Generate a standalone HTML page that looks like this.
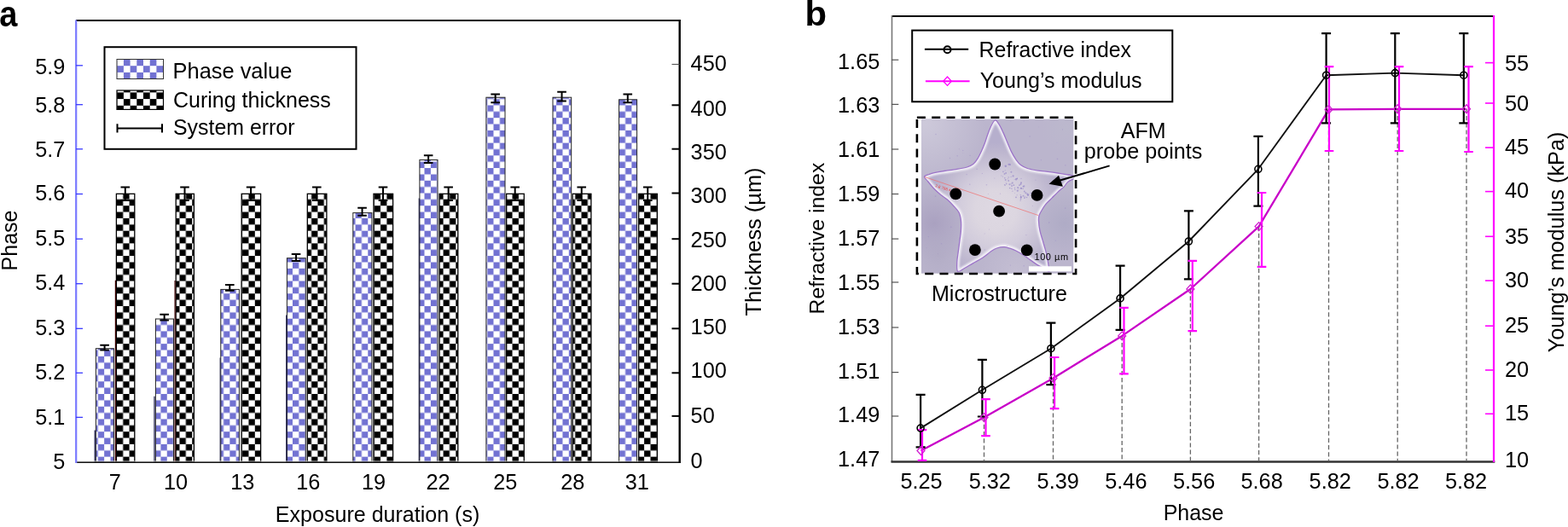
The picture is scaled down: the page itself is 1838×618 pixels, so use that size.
<!DOCTYPE html>
<html><head><meta charset="utf-8"><title>Figure</title>
<style>html,body{margin:0;padding:0;background:#fff;width:1838px;height:618px;overflow:hidden}svg{display:block}</style>
</head><body>
<svg width="1838" height="618" viewBox="0 0 1838 618">
<defs>
<pattern id="pb" patternUnits="userSpaceOnUse" x="4.4" y="5.7" width="14.72" height="14.72">
<rect width="14.72" height="14.72" fill="#fff"/>
<rect x="7.36" y="0" width="7.36" height="7.36" fill="#7272d2"/>
<rect x="0" y="7.36" width="7.36" height="7.36" fill="#7272d2"/>
</pattern>
<pattern id="pk" patternUnits="userSpaceOnUse" x="4.4" y="5.7" width="14.72" height="14.72">
<rect width="14.72" height="14.72" fill="#fff"/>
<rect x="7.36" y="0" width="7.36" height="7.36" fill="#000"/>
<rect x="0" y="7.36" width="7.36" height="7.36" fill="#000"/>
</pattern>
<pattern id="pbl" patternUnits="userSpaceOnUse" x="137.2" y="69.5" width="15.4" height="15.4">
<rect width="15.4" height="15.4" fill="#fff"/>
<rect x="7.7" y="0" width="7.7" height="7.7" fill="#7272d2"/>
<rect x="0" y="7.7" width="7.7" height="7.7" fill="#7272d2"/>
</pattern>
<pattern id="pkl" patternUnits="userSpaceOnUse" x="137.2" y="108.4" width="15.4" height="15.4">
<rect width="15.4" height="15.4" fill="#fff"/>
<rect x="0" y="0" width="7.7" height="7.7" fill="#000"/>
<rect x="7.7" y="7.7" width="7.7" height="7.7" fill="#000"/>
</pattern>
<filter id="soft" x="-5%" y="-5%" width="110%" height="110%"><feGaussianBlur stdDeviation="0.9"/></filter>
<clipPath id="photo"><rect x="1080" y="139.4" width="178.5" height="181.4"/></clipPath>
<linearGradient id="bgGrad" x1="0" y1="0" x2="1" y2="1">
<stop offset="0" stop-color="#cac6d8"/>
<stop offset="0.55" stop-color="#bdb6d0"/>
<stop offset="1" stop-color="#b2aec6"/>
</linearGradient>
<radialGradient id="starGrad" gradientUnits="userSpaceOnUse" cx="1167" cy="247" r="80">
<stop offset="0" stop-color="#ded8e2"/>
<stop offset="0.3" stop-color="#dcd6e0"/>
<stop offset="0.55" stop-color="#d2ccdc"/>
<stop offset="0.85" stop-color="#beb7cf"/>
<stop offset="1" stop-color="#b6afcd"/>
</radialGradient>
</defs>
<rect width="1838" height="618" fill="#fff"/>
<g font-family='"Liberation Sans", Arial, Helvetica, sans-serif' fill="#000">
<text x="0" y="0" font-size="42" font-weight="bold" transform="translate(-0.8 30.6) scale(0.905 1)">a</text>
<rect x="112.4" y="408.7" width="21.0" height="133.3" fill="url(#pb)" stroke="#222" stroke-width="1"/>
<rect x="136.4" y="227.3" width="21.400000000000006" height="314.7" fill="url(#pk)" stroke="#000" stroke-width="1.3"/>
<rect x="182.4" y="374.0" width="21.099999999999994" height="168.0" fill="url(#pb)" stroke="#222" stroke-width="1"/>
<rect x="206.2" y="227.3" width="21.200000000000017" height="314.7" fill="url(#pk)" stroke="#000" stroke-width="1.3"/>
<rect x="258.8" y="339.4" width="21.599999999999966" height="202.60000000000002" fill="url(#pb)" stroke="#222" stroke-width="1"/>
<rect x="283.2" y="227.3" width="22.400000000000034" height="314.7" fill="url(#pk)" stroke="#000" stroke-width="1.3"/>
<rect x="336.4" y="302.7" width="21.900000000000034" height="239.3" fill="url(#pb)" stroke="#222" stroke-width="1"/>
<rect x="360.3" y="227.3" width="22.599999999999966" height="314.7" fill="url(#pk)" stroke="#000" stroke-width="1.3"/>
<rect x="413.8" y="249.6" width="22.099999999999966" height="292.4" fill="url(#pb)" stroke="#222" stroke-width="1"/>
<rect x="438.0" y="227.3" width="22.600000000000023" height="314.7" fill="url(#pk)" stroke="#000" stroke-width="1.3"/>
<rect x="491.9" y="187.5" width="21.100000000000023" height="354.5" fill="url(#pb)" stroke="#222" stroke-width="1"/>
<rect x="515.1" y="227.3" width="21.699999999999932" height="314.7" fill="url(#pk)" stroke="#000" stroke-width="1.3"/>
<rect x="569.9" y="114.2" width="22.100000000000023" height="427.8" fill="url(#pb)" stroke="#222" stroke-width="1"/>
<rect x="593.7" y="227.3" width="20.59999999999991" height="314.7" fill="url(#pk)" stroke="#000" stroke-width="1.3"/>
<rect x="648.0" y="114.2" width="21.700000000000045" height="427.8" fill="url(#pb)" stroke="#222" stroke-width="1"/>
<rect x="671.2" y="227.3" width="21.699999999999932" height="314.7" fill="url(#pk)" stroke="#000" stroke-width="1.3"/>
<rect x="725.6" y="116.8" width="21.0" height="425.2" fill="url(#pb)" stroke="#222" stroke-width="1"/>
<rect x="748.7" y="227.3" width="21.699999999999932" height="314.7" fill="url(#pk)" stroke="#000" stroke-width="1.3"/>
<line x1="111.2" y1="504.6" x2="111.2" y2="542" stroke="#101040" stroke-width="1.2"/>
<line x1="135.4" y1="328.7" x2="135.4" y2="542" stroke="#3a0000" stroke-width="1.2"/>
<line x1="181.0" y1="464.7" x2="181.0" y2="542" stroke="#101040" stroke-width="1.2"/>
<line x1="205.1" y1="329" x2="205.1" y2="542" stroke="#3a0000" stroke-width="1.2"/>
<line x1="258.2" y1="419.4" x2="258.2" y2="542" stroke="#303050" stroke-width="1.2"/>
<line x1="283.0" y1="329.4" x2="283.0" y2="542" stroke="#555" stroke-width="1.2"/>
<line x1="335.8" y1="369.5" x2="335.8" y2="542" stroke="#101040" stroke-width="1.2"/>
<line x1="491.3" y1="232.4" x2="491.3" y2="542" stroke="#202040" stroke-width="1.2"/>
<path d="M122.60000000000001 404.7V410.6M117.30000000000001 404.7H127.9M117.30000000000001 410.6H127.9" stroke="#000" stroke-width="2" fill="none"/>
<path d="M146.8 219.6V235M141.5 219.6H152.10000000000002M141.5 235H152.10000000000002" stroke="#000" stroke-width="2" fill="none"/>
<path d="M192.64999999999998 368.8V375.6M187.34999999999997 368.8H197.95M187.34999999999997 375.6H197.95" stroke="#000" stroke-width="2" fill="none"/>
<path d="M216.5 219.6V235M211.2 219.6H221.8M211.2 235H221.8" stroke="#000" stroke-width="2" fill="none"/>
<path d="M269.3 333.9V340.7M264.0 333.9H274.6M264.0 340.7H274.6" stroke="#000" stroke-width="2" fill="none"/>
<path d="M294.09999999999997 219.6V235M288.79999999999995 219.6H299.4M288.79999999999995 235H299.4" stroke="#000" stroke-width="2" fill="none"/>
<path d="M347.05 298.1V306.1M341.75 298.1H352.35M341.75 306.1H352.35" stroke="#000" stroke-width="2" fill="none"/>
<path d="M371.3 219.6V235M366.0 219.6H376.6M366.0 235H376.6" stroke="#000" stroke-width="2" fill="none"/>
<path d="M424.55 243.7V252.8M419.25 243.7H429.85M419.25 252.8H429.85" stroke="#000" stroke-width="2" fill="none"/>
<path d="M449.0 219.6V235M443.7 219.6H454.3M443.7 235H454.3" stroke="#000" stroke-width="2" fill="none"/>
<path d="M502.15 182.3V191.1M496.84999999999997 182.3H507.45M496.84999999999997 191.1H507.45" stroke="#000" stroke-width="2" fill="none"/>
<path d="M525.6500000000001 219.6V235M520.3500000000001 219.6H530.95M520.3500000000001 235H530.95" stroke="#000" stroke-width="2" fill="none"/>
<path d="M580.6500000000001 110.4V120.2M575.3500000000001 110.4H585.95M575.3500000000001 120.2H585.95" stroke="#000" stroke-width="2" fill="none"/>
<path d="M603.7 219.6V235M598.4000000000001 219.6H609.0M598.4000000000001 235H609.0" stroke="#000" stroke-width="2" fill="none"/>
<path d="M658.5500000000001 107.8V118.6M653.2500000000001 107.8H663.85M653.2500000000001 118.6H663.85" stroke="#000" stroke-width="2" fill="none"/>
<path d="M681.75 219.6V235M676.45 219.6H687.05M676.45 235H687.05" stroke="#000" stroke-width="2" fill="none"/>
<path d="M735.8000000000001 110.4V120.2M730.5000000000001 110.4H741.1M730.5000000000001 120.2H741.1" stroke="#000" stroke-width="2" fill="none"/>
<path d="M759.25 219.6V235M753.95 219.6H764.55M753.95 235H764.55" stroke="#000" stroke-width="2" fill="none"/>
<line x1="89" y1="24" x2="797.5" y2="24" stroke="#000" stroke-width="2"/>
<line x1="89" y1="541" x2="797" y2="541" stroke="#ddd" stroke-width="1"/>
<line x1="89" y1="542.3" x2="797.5" y2="542.3" stroke="#111" stroke-width="1.6"/>
<line x1="796.7" y1="23" x2="796.7" y2="543" stroke="#000" stroke-width="2.4"/>
<line x1="89.2" y1="23.5" x2="89.2" y2="543" stroke="#7a7aff" stroke-width="2.2"/>
<text x="76.3" y="549.5" font-size="25.3" text-anchor="end" >5</text>
<line x1="89" y1="489.4" x2="97" y2="489.4" stroke="#3a3aff" stroke-width="1.3"/>
<text x="76.3" y="497.7" font-size="25.3" text-anchor="end" >5.1</text>
<line x1="89" y1="437.3" x2="97" y2="437.3" stroke="#3a3aff" stroke-width="1.3"/>
<text x="76.3" y="445.0" font-size="25.3" text-anchor="end" >5.2</text>
<line x1="89" y1="385.3" x2="97" y2="385.3" stroke="#3a3aff" stroke-width="1.3"/>
<text x="76.3" y="393.0" font-size="25.3" text-anchor="end" >5.3</text>
<line x1="89" y1="332.7" x2="97" y2="332.7" stroke="#3a3aff" stroke-width="1.3"/>
<text x="76.3" y="340.4" font-size="25.3" text-anchor="end" >5.4</text>
<line x1="89" y1="280.2" x2="97" y2="280.2" stroke="#3a3aff" stroke-width="1.3"/>
<text x="76.3" y="288.0" font-size="25.3" text-anchor="end" >5.5</text>
<line x1="89" y1="227.5" x2="97" y2="227.5" stroke="#3a3aff" stroke-width="1.3"/>
<text x="76.3" y="235.0" font-size="25.3" text-anchor="end" >5.6</text>
<line x1="89" y1="174.8" x2="97" y2="174.8" stroke="#3a3aff" stroke-width="1.3"/>
<text x="76.3" y="183.7" font-size="25.3" text-anchor="end" >5.7</text>
<line x1="89" y1="122.7" x2="97" y2="122.7" stroke="#3a3aff" stroke-width="1.3"/>
<text x="76.3" y="132.2" font-size="25.3" text-anchor="end" >5.8</text>
<line x1="89" y1="76.8" x2="97" y2="76.8" stroke="#3a3aff" stroke-width="1.3"/>
<text x="76.3" y="86.6" font-size="25.3" text-anchor="end" >5.9</text>
<text x="809.6" y="549.4" font-size="25.3" text-anchor="start" >0</text>
<line x1="787.5" y1="487.9" x2="797" y2="487.9" stroke="#000" stroke-width="2"/>
<text x="809.6" y="495.6" font-size="25.3" text-anchor="start" >50</text>
<line x1="787.5" y1="437.3" x2="797" y2="437.3" stroke="#000" stroke-width="2"/>
<text x="809.6" y="442.6" font-size="25.3" text-anchor="start" >100</text>
<line x1="787.5" y1="385.3" x2="797" y2="385.3" stroke="#000" stroke-width="2"/>
<text x="809.6" y="392.3" font-size="25.3" text-anchor="start" >150</text>
<line x1="787.5" y1="332.7" x2="797" y2="332.7" stroke="#000" stroke-width="2"/>
<text x="809.6" y="340.5" font-size="25.3" text-anchor="start" >200</text>
<line x1="787.5" y1="280.2" x2="797" y2="280.2" stroke="#000" stroke-width="2"/>
<text x="809.6" y="289.5" font-size="25.3" text-anchor="start" >250</text>
<line x1="787.5" y1="226.5" x2="797" y2="226.5" stroke="#000" stroke-width="2"/>
<text x="809.6" y="238.3" font-size="25.3" text-anchor="start" >300</text>
<line x1="787.5" y1="174.7" x2="797" y2="174.7" stroke="#000" stroke-width="2"/>
<text x="809.6" y="186.9" font-size="25.3" text-anchor="start" >350</text>
<line x1="787.5" y1="123.3" x2="797" y2="123.3" stroke="#000" stroke-width="2"/>
<text x="809.6" y="135.5" font-size="25.3" text-anchor="start" >400</text>
<line x1="787.5" y1="75.4" x2="797" y2="75.4" stroke="#444" stroke-width="1"/>
<text x="809.6" y="83.2" font-size="25.3" text-anchor="start" >450</text>
<text x="134.8" y="573.6" font-size="25.3" text-anchor="middle" >7</text>
<text x="206" y="573.6" font-size="25.3" text-anchor="middle" >10</text>
<text x="284.3" y="573.6" font-size="25.3" text-anchor="middle" >13</text>
<text x="361.3" y="573.6" font-size="25.3" text-anchor="middle" >16</text>
<text x="438" y="573.6" font-size="25.3" text-anchor="middle" >19</text>
<text x="513.5" y="573.6" font-size="25.3" text-anchor="middle" >22</text>
<text x="592.3" y="573.6" font-size="25.3" text-anchor="middle" >25</text>
<text x="671.2" y="573.6" font-size="25.3" text-anchor="middle" >28</text>
<text x="746.8" y="573.6" font-size="25.3" text-anchor="middle" >31</text>
<text x="442.6" y="612" font-size="25.06" text-anchor="middle" >Exposure duration (s)</text>
<text transform="translate(20.4 282) rotate(-90)" font-size="25" text-anchor="middle">Phase</text>
<text transform="translate(892.4 283.5) rotate(-90)" font-size="25.4" text-anchor="middle">Thickness (µm)</text>
<rect x="122.5" y="55.2" width="295" height="119.6" fill="#fff" stroke="#000" stroke-width="2"/>
<rect x="137" y="69.5" width="54.5" height="23" fill="url(#pbl)" stroke="#333" stroke-width="1"/>
<rect x="137" y="106" width="54.5" height="22.4" fill="url(#pkl)" stroke="#000" stroke-width="1.2"/>
<path d="M137.5 150.4H190M137.5 145.2V155.6M190 145.2V155.6" stroke="#000" stroke-width="2" fill="none"/>
<text x="202.6" y="91.5" font-size="25.4" text-anchor="start" >Phase value</text>
<text x="203" y="125.9" font-size="25.0" text-anchor="start" >Curing thickness</text>
<text x="203" y="158.3" font-size="24.9" text-anchor="start" >System error</text>
<text x="0" y="0" font-size="41" font-weight="bold" transform="translate(943.5 30.4) scale(1.02 1)">b</text>
<g clip-path="url(#photo)">
<rect x="1080" y="139.4" width="178.5" height="181.4" fill="#bbb5cd"/>
<radialGradient id="g1085145" gradientUnits="userSpaceOnUse" cx="1085" cy="145" r="70"><stop offset="0" stop-color="#cdc9da" stop-opacity="1.0"/><stop offset="1" stop-color="#cdc9da" stop-opacity="0"/></radialGradient>
<circle cx="1085" cy="145" r="70" fill="url(#g1085145)"/>
<radialGradient id="g1095262" gradientUnits="userSpaceOnUse" cx="1095" cy="262" r="45"><stop offset="0" stop-color="#a89fbf" stop-opacity="0.9"/><stop offset="1" stop-color="#a89fbf" stop-opacity="0"/></radialGradient>
<circle cx="1095" cy="262" r="45" fill="url(#g1095262)"/>
<radialGradient id="g1100300" gradientUnits="userSpaceOnUse" cx="1100" cy="300" r="35"><stop offset="0" stop-color="#aea8c2" stop-opacity="0.6"/><stop offset="1" stop-color="#aea8c2" stop-opacity="0"/></radialGradient>
<circle cx="1100" cy="300" r="35" fill="url(#g1100300)"/>
<radialGradient id="g1248262" gradientUnits="userSpaceOnUse" cx="1248" cy="262" r="40"><stop offset="0" stop-color="#aca9c4" stop-opacity="0.8"/><stop offset="1" stop-color="#aca9c4" stop-opacity="0"/></radialGradient>
<circle cx="1248" cy="262" r="40" fill="url(#g1248262)"/>
<radialGradient id="g1190318" gradientUnits="userSpaceOnUse" cx="1190" cy="318" r="40"><stop offset="0" stop-color="#c6c0d4" stop-opacity="0.8"/><stop offset="1" stop-color="#c6c0d4" stop-opacity="0"/></radialGradient>
<circle cx="1190" cy="318" r="40" fill="url(#g1190318)"/>
<radialGradient id="g1250150" gradientUnits="userSpaceOnUse" cx="1250" cy="150" r="30"><stop offset="0" stop-color="#bcbacd" stop-opacity="0.6"/><stop offset="1" stop-color="#bcbacd" stop-opacity="0"/></radialGradient>
<circle cx="1250" cy="150" r="30" fill="url(#g1250150)"/>
<clipPath id="starclip"><path d="M1166.3 141.0 C1168.0 140.4 1169.5 143.5 1171.1 145.9 C1172.7 148.3 1174.3 152.0 1175.9 155.4 C1177.5 158.8 1179.0 162.8 1180.6 166.5 C1182.2 170.2 1183.7 174.2 1185.4 177.6 C1187.1 181.0 1189.1 184.5 1190.9 187.2 C1192.8 189.8 1194.2 191.8 1196.5 193.5 C1198.8 195.2 1201.2 196.4 1204.4 197.5 C1207.6 198.6 1211.5 199.2 1215.5 199.8 C1219.5 200.5 1224.1 200.9 1228.2 201.4 C1232.3 201.9 1236.1 202.4 1240.1 203.0 C1244.1 203.6 1248.5 204.2 1252.2 205.0 C1255.9 205.8 1262.0 206.2 1262 207.5 C1262.0 208.8 1254.7 211.1 1252.2 213.0 C1249.7 214.9 1249.1 217.1 1247.1 219.1 C1245.1 221.1 1242.4 222.9 1240.1 225.1 C1237.8 227.3 1235.4 229.8 1233.1 232.1 C1230.8 234.4 1228.0 236.8 1226.1 239.1 C1224.2 241.4 1222.8 243.8 1221.5 246.0 C1220.2 248.2 1218.9 250.2 1218.2 252.3 C1217.5 254.4 1217.4 255.3 1217.5 258.4 C1217.6 261.4 1218.2 266.8 1219.0 270.6 C1219.8 274.4 1221.0 277.6 1222.0 281.2 C1223.0 284.8 1224.2 288.6 1225.1 291.9 C1226.0 295.2 1226.8 298.0 1227.4 301.0 C1228.0 304.0 1228.5 307.2 1228.9 310.1 C1229.3 313.0 1230.7 317.7 1230.0 318.5 C1229.3 319.3 1227.0 316.4 1224.5 315.0 C1222.0 313.6 1218.5 312.2 1215.2 310.1 C1211.9 308.0 1207.8 304.8 1204.5 302.5 C1201.2 300.2 1198.2 298.1 1195.4 296.5 C1192.6 294.9 1190.8 293.8 1187.8 292.6 C1184.8 291.5 1180.4 289.9 1177.2 289.6 C1174.0 289.3 1171.0 290.2 1168.5 291.0 C1166.0 291.8 1164.8 292.6 1162.0 294.5 C1159.2 296.4 1155.0 300.1 1151.5 302.5 C1148.0 304.9 1144.3 306.6 1140.8 308.6 C1137.2 310.6 1133.2 313.1 1130.2 314.7 C1127.2 316.3 1124.0 319.5 1122.6 318.2 C1121.2 316.9 1121.7 311.0 1121.8 307.1 C1121.9 303.2 1122.8 299.0 1123.3 294.9 C1123.8 290.8 1124.4 286.8 1124.9 282.7 C1125.4 278.6 1126.2 274.7 1126.4 270.6 C1126.7 266.6 1126.8 261.9 1126.4 258.4 C1126.0 254.8 1125.5 252.1 1124.1 249.3 C1122.7 246.5 1120.3 244.2 1118.0 241.7 C1115.7 239.2 1112.9 236.3 1110.4 234.1 C1107.9 231.9 1105.4 230.6 1102.8 228.5 C1100.2 226.4 1097.5 224.0 1094.9 221.3 C1092.3 218.6 1089.3 214.8 1087.4 212.4 C1085.5 210.1 1083.2 208.5 1083.5 207.2 C1083.8 205.9 1087.1 205.2 1089.0 204.5 C1090.9 203.8 1091.9 203.4 1094.9 202.7 C1097.9 202.0 1102.3 201.2 1106.8 200.5 C1111.3 199.8 1117.2 199.1 1121.7 198.3 C1126.2 197.6 1130.4 197.0 1133.6 196.0 C1136.8 195.0 1138.9 194.0 1141.0 192.3 C1143.1 190.6 1144.6 188.2 1146.2 185.6 C1147.8 183.0 1149.3 179.7 1150.7 176.7 C1152.1 173.7 1153.3 170.8 1154.4 167.8 C1155.5 164.8 1156.3 161.9 1157.4 158.8 C1158.5 155.7 1159.6 152.2 1161.1 149.2 C1162.6 146.2 1164.6 141.6 1166.3 141.0Z"/></clipPath>
<path d="M1166.3 141.0 C1168.0 140.4 1169.5 143.5 1171.1 145.9 C1172.7 148.3 1174.3 152.0 1175.9 155.4 C1177.5 158.8 1179.0 162.8 1180.6 166.5 C1182.2 170.2 1183.7 174.2 1185.4 177.6 C1187.1 181.0 1189.1 184.5 1190.9 187.2 C1192.8 189.8 1194.2 191.8 1196.5 193.5 C1198.8 195.2 1201.2 196.4 1204.4 197.5 C1207.6 198.6 1211.5 199.2 1215.5 199.8 C1219.5 200.5 1224.1 200.9 1228.2 201.4 C1232.3 201.9 1236.1 202.4 1240.1 203.0 C1244.1 203.6 1248.5 204.2 1252.2 205.0 C1255.9 205.8 1262.0 206.2 1262 207.5 C1262.0 208.8 1254.7 211.1 1252.2 213.0 C1249.7 214.9 1249.1 217.1 1247.1 219.1 C1245.1 221.1 1242.4 222.9 1240.1 225.1 C1237.8 227.3 1235.4 229.8 1233.1 232.1 C1230.8 234.4 1228.0 236.8 1226.1 239.1 C1224.2 241.4 1222.8 243.8 1221.5 246.0 C1220.2 248.2 1218.9 250.2 1218.2 252.3 C1217.5 254.4 1217.4 255.3 1217.5 258.4 C1217.6 261.4 1218.2 266.8 1219.0 270.6 C1219.8 274.4 1221.0 277.6 1222.0 281.2 C1223.0 284.8 1224.2 288.6 1225.1 291.9 C1226.0 295.2 1226.8 298.0 1227.4 301.0 C1228.0 304.0 1228.5 307.2 1228.9 310.1 C1229.3 313.0 1230.7 317.7 1230.0 318.5 C1229.3 319.3 1227.0 316.4 1224.5 315.0 C1222.0 313.6 1218.5 312.2 1215.2 310.1 C1211.9 308.0 1207.8 304.8 1204.5 302.5 C1201.2 300.2 1198.2 298.1 1195.4 296.5 C1192.6 294.9 1190.8 293.8 1187.8 292.6 C1184.8 291.5 1180.4 289.9 1177.2 289.6 C1174.0 289.3 1171.0 290.2 1168.5 291.0 C1166.0 291.8 1164.8 292.6 1162.0 294.5 C1159.2 296.4 1155.0 300.1 1151.5 302.5 C1148.0 304.9 1144.3 306.6 1140.8 308.6 C1137.2 310.6 1133.2 313.1 1130.2 314.7 C1127.2 316.3 1124.0 319.5 1122.6 318.2 C1121.2 316.9 1121.7 311.0 1121.8 307.1 C1121.9 303.2 1122.8 299.0 1123.3 294.9 C1123.8 290.8 1124.4 286.8 1124.9 282.7 C1125.4 278.6 1126.2 274.7 1126.4 270.6 C1126.7 266.6 1126.8 261.9 1126.4 258.4 C1126.0 254.8 1125.5 252.1 1124.1 249.3 C1122.7 246.5 1120.3 244.2 1118.0 241.7 C1115.7 239.2 1112.9 236.3 1110.4 234.1 C1107.9 231.9 1105.4 230.6 1102.8 228.5 C1100.2 226.4 1097.5 224.0 1094.9 221.3 C1092.3 218.6 1089.3 214.8 1087.4 212.4 C1085.5 210.1 1083.2 208.5 1083.5 207.2 C1083.8 205.9 1087.1 205.2 1089.0 204.5 C1090.9 203.8 1091.9 203.4 1094.9 202.7 C1097.9 202.0 1102.3 201.2 1106.8 200.5 C1111.3 199.8 1117.2 199.1 1121.7 198.3 C1126.2 197.6 1130.4 197.0 1133.6 196.0 C1136.8 195.0 1138.9 194.0 1141.0 192.3 C1143.1 190.6 1144.6 188.2 1146.2 185.6 C1147.8 183.0 1149.3 179.7 1150.7 176.7 C1152.1 173.7 1153.3 170.8 1154.4 167.8 C1155.5 164.8 1156.3 161.9 1157.4 158.8 C1158.5 155.7 1159.6 152.2 1161.1 149.2 C1162.6 146.2 1164.6 141.6 1166.3 141.0Z" fill="url(#starGrad)"/>
<g clip-path="url(#starclip)"><path d="M1166.3 141.0 C1168.0 140.4 1169.5 143.5 1171.1 145.9 C1172.7 148.3 1174.3 152.0 1175.9 155.4 C1177.5 158.8 1179.0 162.8 1180.6 166.5 C1182.2 170.2 1183.7 174.2 1185.4 177.6 C1187.1 181.0 1189.1 184.5 1190.9 187.2 C1192.8 189.8 1194.2 191.8 1196.5 193.5 C1198.8 195.2 1201.2 196.4 1204.4 197.5 C1207.6 198.6 1211.5 199.2 1215.5 199.8 C1219.5 200.5 1224.1 200.9 1228.2 201.4 C1232.3 201.9 1236.1 202.4 1240.1 203.0 C1244.1 203.6 1248.5 204.2 1252.2 205.0 C1255.9 205.8 1262.0 206.2 1262 207.5 C1262.0 208.8 1254.7 211.1 1252.2 213.0 C1249.7 214.9 1249.1 217.1 1247.1 219.1 C1245.1 221.1 1242.4 222.9 1240.1 225.1 C1237.8 227.3 1235.4 229.8 1233.1 232.1 C1230.8 234.4 1228.0 236.8 1226.1 239.1 C1224.2 241.4 1222.8 243.8 1221.5 246.0 C1220.2 248.2 1218.9 250.2 1218.2 252.3 C1217.5 254.4 1217.4 255.3 1217.5 258.4 C1217.6 261.4 1218.2 266.8 1219.0 270.6 C1219.8 274.4 1221.0 277.6 1222.0 281.2 C1223.0 284.8 1224.2 288.6 1225.1 291.9 C1226.0 295.2 1226.8 298.0 1227.4 301.0 C1228.0 304.0 1228.5 307.2 1228.9 310.1 C1229.3 313.0 1230.7 317.7 1230.0 318.5 C1229.3 319.3 1227.0 316.4 1224.5 315.0 C1222.0 313.6 1218.5 312.2 1215.2 310.1 C1211.9 308.0 1207.8 304.8 1204.5 302.5 C1201.2 300.2 1198.2 298.1 1195.4 296.5 C1192.6 294.9 1190.8 293.8 1187.8 292.6 C1184.8 291.5 1180.4 289.9 1177.2 289.6 C1174.0 289.3 1171.0 290.2 1168.5 291.0 C1166.0 291.8 1164.8 292.6 1162.0 294.5 C1159.2 296.4 1155.0 300.1 1151.5 302.5 C1148.0 304.9 1144.3 306.6 1140.8 308.6 C1137.2 310.6 1133.2 313.1 1130.2 314.7 C1127.2 316.3 1124.0 319.5 1122.6 318.2 C1121.2 316.9 1121.7 311.0 1121.8 307.1 C1121.9 303.2 1122.8 299.0 1123.3 294.9 C1123.8 290.8 1124.4 286.8 1124.9 282.7 C1125.4 278.6 1126.2 274.7 1126.4 270.6 C1126.7 266.6 1126.8 261.9 1126.4 258.4 C1126.0 254.8 1125.5 252.1 1124.1 249.3 C1122.7 246.5 1120.3 244.2 1118.0 241.7 C1115.7 239.2 1112.9 236.3 1110.4 234.1 C1107.9 231.9 1105.4 230.6 1102.8 228.5 C1100.2 226.4 1097.5 224.0 1094.9 221.3 C1092.3 218.6 1089.3 214.8 1087.4 212.4 C1085.5 210.1 1083.2 208.5 1083.5 207.2 C1083.8 205.9 1087.1 205.2 1089.0 204.5 C1090.9 203.8 1091.9 203.4 1094.9 202.7 C1097.9 202.0 1102.3 201.2 1106.8 200.5 C1111.3 199.8 1117.2 199.1 1121.7 198.3 C1126.2 197.6 1130.4 197.0 1133.6 196.0 C1136.8 195.0 1138.9 194.0 1141.0 192.3 C1143.1 190.6 1144.6 188.2 1146.2 185.6 C1147.8 183.0 1149.3 179.7 1150.7 176.7 C1152.1 173.7 1153.3 170.8 1154.4 167.8 C1155.5 164.8 1156.3 161.9 1157.4 158.8 C1158.5 155.7 1159.6 152.2 1161.1 149.2 C1162.6 146.2 1164.6 141.6 1166.3 141.0Z" fill="none" stroke="#f8f6fb" stroke-width="6" filter="url(#soft)" opacity="0.9"/></g>
<path d="M1166.3 141.0 C1168.0 140.4 1169.5 143.5 1171.1 145.9 C1172.7 148.3 1174.3 152.0 1175.9 155.4 C1177.5 158.8 1179.0 162.8 1180.6 166.5 C1182.2 170.2 1183.7 174.2 1185.4 177.6 C1187.1 181.0 1189.1 184.5 1190.9 187.2 C1192.8 189.8 1194.2 191.8 1196.5 193.5 C1198.8 195.2 1201.2 196.4 1204.4 197.5 C1207.6 198.6 1211.5 199.2 1215.5 199.8 C1219.5 200.5 1224.1 200.9 1228.2 201.4 C1232.3 201.9 1236.1 202.4 1240.1 203.0 C1244.1 203.6 1248.5 204.2 1252.2 205.0 C1255.9 205.8 1262.0 206.2 1262 207.5 C1262.0 208.8 1254.7 211.1 1252.2 213.0 C1249.7 214.9 1249.1 217.1 1247.1 219.1 C1245.1 221.1 1242.4 222.9 1240.1 225.1 C1237.8 227.3 1235.4 229.8 1233.1 232.1 C1230.8 234.4 1228.0 236.8 1226.1 239.1 C1224.2 241.4 1222.8 243.8 1221.5 246.0 C1220.2 248.2 1218.9 250.2 1218.2 252.3 C1217.5 254.4 1217.4 255.3 1217.5 258.4 C1217.6 261.4 1218.2 266.8 1219.0 270.6 C1219.8 274.4 1221.0 277.6 1222.0 281.2 C1223.0 284.8 1224.2 288.6 1225.1 291.9 C1226.0 295.2 1226.8 298.0 1227.4 301.0 C1228.0 304.0 1228.5 307.2 1228.9 310.1 C1229.3 313.0 1230.7 317.7 1230.0 318.5 C1229.3 319.3 1227.0 316.4 1224.5 315.0 C1222.0 313.6 1218.5 312.2 1215.2 310.1 C1211.9 308.0 1207.8 304.8 1204.5 302.5 C1201.2 300.2 1198.2 298.1 1195.4 296.5 C1192.6 294.9 1190.8 293.8 1187.8 292.6 C1184.8 291.5 1180.4 289.9 1177.2 289.6 C1174.0 289.3 1171.0 290.2 1168.5 291.0 C1166.0 291.8 1164.8 292.6 1162.0 294.5 C1159.2 296.4 1155.0 300.1 1151.5 302.5 C1148.0 304.9 1144.3 306.6 1140.8 308.6 C1137.2 310.6 1133.2 313.1 1130.2 314.7 C1127.2 316.3 1124.0 319.5 1122.6 318.2 C1121.2 316.9 1121.7 311.0 1121.8 307.1 C1121.9 303.2 1122.8 299.0 1123.3 294.9 C1123.8 290.8 1124.4 286.8 1124.9 282.7 C1125.4 278.6 1126.2 274.7 1126.4 270.6 C1126.7 266.6 1126.8 261.9 1126.4 258.4 C1126.0 254.8 1125.5 252.1 1124.1 249.3 C1122.7 246.5 1120.3 244.2 1118.0 241.7 C1115.7 239.2 1112.9 236.3 1110.4 234.1 C1107.9 231.9 1105.4 230.6 1102.8 228.5 C1100.2 226.4 1097.5 224.0 1094.9 221.3 C1092.3 218.6 1089.3 214.8 1087.4 212.4 C1085.5 210.1 1083.2 208.5 1083.5 207.2 C1083.8 205.9 1087.1 205.2 1089.0 204.5 C1090.9 203.8 1091.9 203.4 1094.9 202.7 C1097.9 202.0 1102.3 201.2 1106.8 200.5 C1111.3 199.8 1117.2 199.1 1121.7 198.3 C1126.2 197.6 1130.4 197.0 1133.6 196.0 C1136.8 195.0 1138.9 194.0 1141.0 192.3 C1143.1 190.6 1144.6 188.2 1146.2 185.6 C1147.8 183.0 1149.3 179.7 1150.7 176.7 C1152.1 173.7 1153.3 170.8 1154.4 167.8 C1155.5 164.8 1156.3 161.9 1157.4 158.8 C1158.5 155.7 1159.6 152.2 1161.1 149.2 C1162.6 146.2 1164.6 141.6 1166.3 141.0Z" fill="none" stroke="#9c74c8" stroke-width="1.3"/>
<circle cx="1177.5" cy="203.9" r="0.9" fill="#9080c4" opacity="0.6"/>
<circle cx="1193.2" cy="220.1" r="1.1" fill="#9080c4" opacity="0.6"/>
<circle cx="1183.7" cy="220.6" r="0.8" fill="#9080c4" opacity="0.6"/>
<circle cx="1192.1" cy="228.7" r="0.5" fill="#9080c4" opacity="0.6"/>
<circle cx="1196.5" cy="216.1" r="1.0" fill="#9080c4" opacity="0.6"/>
<circle cx="1200.8" cy="224.5" r="0.9" fill="#9080c4" opacity="0.6"/>
<circle cx="1192.3" cy="209.2" r="0.8" fill="#9080c4" opacity="0.6"/>
<circle cx="1200.3" cy="218.4" r="1.1" fill="#9080c4" opacity="0.6"/>
<circle cx="1187.6" cy="206.4" r="1.1" fill="#9080c4" opacity="0.6"/>
<circle cx="1201.6" cy="230.8" r="0.6" fill="#9080c4" opacity="0.6"/>
<circle cx="1196.2" cy="235.2" r="0.6" fill="#9080c4" opacity="0.6"/>
<circle cx="1186.0" cy="218.0" r="0.9" fill="#9080c4" opacity="0.6"/>
<circle cx="1197.0" cy="214.3" r="1.1" fill="#9080c4" opacity="0.6"/>
<circle cx="1205.7" cy="228.2" r="0.5" fill="#9080c4" opacity="0.6"/>
<circle cx="1208.6" cy="226.6" r="0.9" fill="#9080c4" opacity="0.6"/>
<circle cx="1197.0" cy="231.4" r="0.9" fill="#9080c4" opacity="0.6"/>
<circle cx="1191.1" cy="210.3" r="1.2" fill="#9080c4" opacity="0.6"/>
<circle cx="1178.9" cy="195.0" r="0.5" fill="#9080c4" opacity="0.6"/>
<circle cx="1184.3" cy="198.1" r="0.4" fill="#9080c4" opacity="0.6"/>
<circle cx="1199.1" cy="221.3" r="0.7" fill="#9080c4" opacity="0.6"/>
<circle cx="1205.0" cy="228.8" r="1.2" fill="#9080c4" opacity="0.6"/>
<circle cx="1189.1" cy="210.6" r="0.4" fill="#9080c4" opacity="0.6"/>
<circle cx="1175.4" cy="206.9" r="0.5" fill="#9080c4" opacity="0.6"/>
<circle cx="1178.8" cy="194.7" r="1.2" fill="#9080c4" opacity="0.6"/>
<circle cx="1196.5" cy="233.5" r="0.8" fill="#9080c4" opacity="0.6"/>
<circle cx="1188.3" cy="217.2" r="0.9" fill="#9080c4" opacity="0.6"/>
<circle cx="1196.6" cy="231.5" r="1.0" fill="#9080c4" opacity="0.6"/>
<circle cx="1177.7" cy="216.8" r="0.8" fill="#9080c4" opacity="0.6"/>
<circle cx="1195.0" cy="217.2" r="0.9" fill="#9080c4" opacity="0.6"/>
<circle cx="1170.8" cy="192.5" r="0.4" fill="#9080c4" opacity="0.6"/>
<circle cx="1185.9" cy="221.3" r="0.7" fill="#9080c4" opacity="0.6"/>
<circle cx="1194.7" cy="221.9" r="0.4" fill="#9080c4" opacity="0.6"/>
<circle cx="1197.3" cy="220.9" r="0.8" fill="#9080c4" opacity="0.6"/>
<circle cx="1189.8" cy="222.4" r="0.7" fill="#9080c4" opacity="0.6"/>
<circle cx="1182.2" cy="207.9" r="0.7" fill="#9080c4" opacity="0.6"/>
<circle cx="1202.4" cy="226.3" r="1.0" fill="#9080c4" opacity="0.6"/>
<circle cx="1185.1" cy="215.8" r="0.6" fill="#9080c4" opacity="0.6"/>
<circle cx="1173.9" cy="205.9" r="0.5" fill="#9080c4" opacity="0.6"/>
<circle cx="1179.7" cy="215.6" r="0.8" fill="#9080c4" opacity="0.6"/>
<circle cx="1200.9" cy="232.1" r="0.9" fill="#9080c4" opacity="0.6"/>
<circle cx="1196.7" cy="230.6" r="0.5" fill="#9080c4" opacity="0.6"/>
<circle cx="1192.8" cy="223.7" r="1.1" fill="#9080c4" opacity="0.6"/>
<circle cx="1178.7" cy="211.0" r="0.9" fill="#9080c4" opacity="0.6"/>
<circle cx="1196.2" cy="228.6" r="0.6" fill="#9080c4" opacity="0.6"/>
<circle cx="1196.7" cy="230.3" r="0.7" fill="#9080c4" opacity="0.6"/>
<circle cx="1178.2" cy="217.4" r="0.5" fill="#9080c4" opacity="0.6"/>
<circle cx="1183.8" cy="192.9" r="1.2" fill="#9080c4" opacity="0.6"/>
<circle cx="1197.0" cy="209.3" r="0.6" fill="#9080c4" opacity="0.6"/>
<circle cx="1199.3" cy="218.7" r="0.8" fill="#9080c4" opacity="0.6"/>
<circle cx="1181.3" cy="209.7" r="0.5" fill="#9080c4" opacity="0.6"/>
<circle cx="1189.6" cy="226.4" r="0.4" fill="#9080c4" opacity="0.6"/>
<circle cx="1196.8" cy="220.8" r="1.1" fill="#9080c4" opacity="0.6"/>
<circle cx="1199.5" cy="229.8" r="1.0" fill="#9080c4" opacity="0.6"/>
<circle cx="1177.8" cy="208.8" r="0.8" fill="#9080c4" opacity="0.6"/>
<circle cx="1192.3" cy="209.4" r="0.7" fill="#9080c4" opacity="0.6"/>
<circle cx="1185.4" cy="201.7" r="1.0" fill="#9080c4" opacity="0.6"/>
<circle cx="1186.7" cy="214.6" r="1.1" fill="#9080c4" opacity="0.6"/>
<circle cx="1182.4" cy="192.7" r="1.0" fill="#9080c4" opacity="0.6"/>
<circle cx="1204.4" cy="227.6" r="1.1" fill="#9080c4" opacity="0.6"/>
<circle cx="1175.9" cy="201.4" r="0.8" fill="#9080c4" opacity="0.6"/>
<circle cx="1179.2" cy="213.4" r="0.4" fill="#9080c4" opacity="0.6"/>
<circle cx="1178.2" cy="199.7" r="0.5" fill="#9080c4" opacity="0.6"/>
<circle cx="1203.5" cy="231.5" r="0.8" fill="#9080c4" opacity="0.6"/>
<circle cx="1182.2" cy="211.9" r="0.9" fill="#9080c4" opacity="0.6"/>
<circle cx="1189.5" cy="220.5" r="0.7" fill="#9080c4" opacity="0.6"/>
<circle cx="1171.8" cy="198.3" r="0.7" fill="#9080c4" opacity="0.6"/>
<circle cx="1179.1" cy="203.0" r="0.9" fill="#9080c4" opacity="0.6"/>
<circle cx="1191.0" cy="231.3" r="0.9" fill="#9080c4" opacity="0.6"/>
<circle cx="1183.4" cy="216.2" r="1.0" fill="#9080c4" opacity="0.6"/>
<circle cx="1185.1" cy="207.3" r="0.6" fill="#9080c4" opacity="0.6"/>
<circle cx="1175.8" cy="264.7" r="0.4" fill="#9a88c8" opacity="0.4"/>
<circle cx="1156.4" cy="216.8" r="0.8" fill="#9a88c8" opacity="0.4"/>
<circle cx="1245.9" cy="207.6" r="0.8" fill="#9a88c8" opacity="0.4"/>
<circle cx="1220.4" cy="187.7" r="0.6" fill="#9a88c8" opacity="0.4"/>
<circle cx="1103.6" cy="285.8" r="0.7" fill="#9a88c8" opacity="0.4"/>
<circle cx="1237.3" cy="282.1" r="0.7" fill="#9a88c8" opacity="0.4"/>
<circle cx="1210.4" cy="241.4" r="0.5" fill="#9a88c8" opacity="0.4"/>
<circle cx="1184.9" cy="141.9" r="0.5" fill="#9a88c8" opacity="0.4"/>
<circle cx="1217.5" cy="148.9" r="0.4" fill="#9a88c8" opacity="0.4"/>
<circle cx="1099.4" cy="297.7" r="0.5" fill="#9a88c8" opacity="0.4"/>
<circle cx="1086.1" cy="290.8" r="0.5" fill="#9a88c8" opacity="0.4"/>
<circle cx="1229.7" cy="260.9" r="0.8" fill="#9a88c8" opacity="0.4"/>
<circle cx="1248.7" cy="244.1" r="0.8" fill="#9a88c8" opacity="0.4"/>
<circle cx="1088.3" cy="277.6" r="0.7" fill="#9a88c8" opacity="0.4"/>
<circle cx="1207.2" cy="160.0" r="0.8" fill="#9a88c8" opacity="0.4"/>
<circle cx="1245.5" cy="151.9" r="0.6" fill="#9a88c8" opacity="0.4"/>
<circle cx="1180.7" cy="288.4" r="0.5" fill="#9a88c8" opacity="0.4"/>
<circle cx="1113.5" cy="185.5" r="0.7" fill="#9a88c8" opacity="0.4"/>
<circle cx="1213.9" cy="211.1" r="0.6" fill="#9a88c8" opacity="0.4"/>
<circle cx="1151.4" cy="203.4" r="0.6" fill="#9a88c8" opacity="0.4"/>
<circle cx="1096.6" cy="230.1" r="0.9" fill="#9a88c8" opacity="0.4"/>
<circle cx="1154.2" cy="274.0" r="0.5" fill="#9a88c8" opacity="0.4"/>
<circle cx="1202.9" cy="275.6" r="0.7" fill="#9a88c8" opacity="0.4"/>
<circle cx="1172.5" cy="227.1" r="0.7" fill="#9a88c8" opacity="0.4"/>
<circle cx="1239.0" cy="167.6" r="0.4" fill="#9a88c8" opacity="0.4"/>
<circle cx="1212.9" cy="304.2" r="0.7" fill="#9a88c8" opacity="0.4"/>
<circle cx="1159.5" cy="269.0" r="0.5" fill="#9a88c8" opacity="0.4"/>
<circle cx="1128.8" cy="176.5" r="0.7" fill="#9a88c8" opacity="0.4"/>
<circle cx="1137.1" cy="182.4" r="0.7" fill="#9a88c8" opacity="0.4"/>
<circle cx="1248.8" cy="193.7" r="0.8" fill="#9a88c8" opacity="0.4"/>
<circle cx="1154.3" cy="292.9" r="0.7" fill="#9a88c8" opacity="0.4"/>
<circle cx="1128.8" cy="179.7" r="0.4" fill="#9a88c8" opacity="0.4"/>
<circle cx="1165.9" cy="209.1" r="0.5" fill="#9a88c8" opacity="0.4"/>
<circle cx="1145.1" cy="198.3" r="0.8" fill="#9a88c8" opacity="0.4"/>
<circle cx="1107.1" cy="317.4" r="0.6" fill="#9a88c8" opacity="0.4"/>
<circle cx="1186.8" cy="224.3" r="0.8" fill="#9a88c8" opacity="0.4"/>
<circle cx="1225.8" cy="240.2" r="0.6" fill="#9a88c8" opacity="0.4"/>
<circle cx="1208.1" cy="293.5" r="0.6" fill="#9a88c8" opacity="0.4"/>
<circle cx="1210.4" cy="311.9" r="0.6" fill="#9a88c8" opacity="0.4"/>
<circle cx="1122.2" cy="182.8" r="0.8" fill="#9a88c8" opacity="0.4"/>
<circle cx="1200.2" cy="311.7" r="0.8" fill="#9a88c8" opacity="0.4"/>
<circle cx="1124.4" cy="174.8" r="0.5" fill="#9a88c8" opacity="0.4"/>
<circle cx="1114.8" cy="266.4" r="0.8" fill="#9a88c8" opacity="0.4"/>
<circle cx="1239.5" cy="186.4" r="0.8" fill="#9a88c8" opacity="0.4"/>
<circle cx="1136.8" cy="216.3" r="0.8" fill="#9a88c8" opacity="0.4"/>
<circle cx="1097.0" cy="157.5" r="0.8" fill="#9a88c8" opacity="0.4"/>
<circle cx="1133.1" cy="204.5" r="0.7" fill="#9a88c8" opacity="0.4"/>
<circle cx="1200.2" cy="142.2" r="0.6" fill="#9a88c8" opacity="0.4"/>
<circle cx="1158.3" cy="227.5" r="0.5" fill="#9a88c8" opacity="0.4"/>
<circle cx="1184.4" cy="311.1" r="0.6" fill="#9a88c8" opacity="0.4"/>
<line x1="1084" y1="207.5" x2="1217" y2="252.5" stroke="#f07070" stroke-width="0.9" opacity="0.8"/>
<text x="1096" y="219" font-size="4.5" fill="#f04040" transform="rotate(18 1096 219)">2.8  798.4 h</text>
<circle cx="1166.2" cy="192.5" r="6.9" fill="#000"/>
<circle cx="1120.3" cy="227.4" r="6.9" fill="#000"/>
<circle cx="1215.6" cy="228.9" r="6.9" fill="#000"/>
<circle cx="1171.1" cy="247.7" r="6.9" fill="#000"/>
<circle cx="1142.9" cy="293.1" r="6.9" fill="#000"/>
<circle cx="1203.7" cy="293.4" r="6.9" fill="#000"/>
<rect x="1206" y="312.3" width="50" height="6" fill="#fff"/>
<text x="1212.6" y="304.6" font-size="11" textLength="39.5" lengthAdjust="spacing">100 µm</text>
</g>
<rect x="1074.9" y="137.8" width="186.2" height="183.2" fill="none" stroke="#000" stroke-width="2.6" stroke-dasharray="10 7.3"/>
<text x="1171.45" y="352.9" font-size="25.1" text-anchor="middle" >Microstructure</text>
<text x="1340.2" y="161.6" font-size="25.0" text-anchor="middle" >AFM</text>
<text x="1340.1" y="185.8" font-size="25.2" text-anchor="middle" >probe points</text>
<line x1="1300.6" y1="194.4" x2="1240" y2="212.3" stroke="#000" stroke-width="2"/>
<path d="M1229.5 215.8 L1241 205.7 L1245.9 218.7 Z" fill="#000"/>
<line x1="1045" y1="19" x2="1752" y2="19" stroke="#000" stroke-width="2"/>
<line x1="1045.5" y1="18" x2="1045.5" y2="542" stroke="#777" stroke-width="1.6"/>
<line x1="1045" y1="70.2" x2="1053.3" y2="70.2" stroke="#555" stroke-width="1.2"/>
<text x="1031.3" y="80.6" font-size="25.3" text-anchor="end" >1.65</text>
<line x1="1045" y1="122.4" x2="1053.3" y2="122.4" stroke="#555" stroke-width="1.2"/>
<text x="1031.3" y="132.4" font-size="25.3" text-anchor="end" >1.63</text>
<line x1="1045" y1="175" x2="1053.3" y2="175" stroke="#555" stroke-width="1.2"/>
<text x="1031.3" y="184.3" font-size="25.3" text-anchor="end" >1.61</text>
<line x1="1045" y1="227.5" x2="1053.3" y2="227.5" stroke="#555" stroke-width="1.2"/>
<text x="1031.3" y="236.1" font-size="25.3" text-anchor="end" >1.59</text>
<line x1="1045" y1="280.1" x2="1053.3" y2="280.1" stroke="#555" stroke-width="1.2"/>
<text x="1031.3" y="288.0" font-size="25.3" text-anchor="end" >1.57</text>
<line x1="1045" y1="331" x2="1053.3" y2="331" stroke="#555" stroke-width="1.2"/>
<text x="1031.3" y="339.8" font-size="25.3" text-anchor="end" >1.55</text>
<line x1="1045" y1="384" x2="1053.3" y2="384" stroke="#555" stroke-width="1.2"/>
<text x="1031.3" y="391.7" font-size="25.3" text-anchor="end" >1.53</text>
<line x1="1045" y1="436.6" x2="1053.3" y2="436.6" stroke="#555" stroke-width="1.2"/>
<text x="1031.3" y="443.5" font-size="25.3" text-anchor="end" >1.51</text>
<line x1="1045" y1="488" x2="1053.3" y2="488" stroke="#555" stroke-width="1.2"/>
<text x="1031.3" y="495.4" font-size="25.3" text-anchor="end" >1.49</text>
<text x="1031.3" y="547.2" font-size="25.3" text-anchor="end" >1.47</text>
<text x="1764.0" y="547.8" font-size="25.3" text-anchor="start" >10</text>
<line x1="1741" y1="485.3" x2="1751" y2="485.3" stroke="#ff00ff" stroke-width="1.6"/>
<text x="1764.0" y="492.8" font-size="25.3" text-anchor="start" >15</text>
<line x1="1741" y1="434.0" x2="1751" y2="434.0" stroke="#ff00ff" stroke-width="1.6"/>
<text x="1764.0" y="441.5" font-size="25.3" text-anchor="start" >20</text>
<line x1="1741" y1="382.2" x2="1751" y2="382.2" stroke="#ff00ff" stroke-width="1.6"/>
<text x="1764.0" y="390.4" font-size="25.3" text-anchor="start" >25</text>
<line x1="1741" y1="329.1" x2="1751" y2="329.1" stroke="#ff00ff" stroke-width="1.6"/>
<text x="1764.0" y="337.2" font-size="25.3" text-anchor="start" >30</text>
<line x1="1741" y1="277.3" x2="1751" y2="277.3" stroke="#ff00ff" stroke-width="1.6"/>
<text x="1764.0" y="285.7" font-size="25.3" text-anchor="start" >35</text>
<line x1="1741" y1="224.6" x2="1751" y2="224.6" stroke="#ff00ff" stroke-width="1.6"/>
<text x="1764.0" y="231.5" font-size="25.3" text-anchor="start" >40</text>
<line x1="1741" y1="173.1" x2="1751" y2="173.1" stroke="#ff00ff" stroke-width="1.6"/>
<text x="1764.0" y="181.1" font-size="25.3" text-anchor="start" >45</text>
<line x1="1741" y1="121.0" x2="1751" y2="121.0" stroke="#ff00ff" stroke-width="1.6"/>
<text x="1764.0" y="130.4" font-size="25.3" text-anchor="start" >50</text>
<line x1="1741" y1="73.6" x2="1751" y2="73.6" stroke="#ff00ff" stroke-width="1.6"/>
<text x="1764.0" y="82.5" font-size="25.3" text-anchor="start" >55</text>
<text x="1080" y="573.0" font-size="25.3" text-anchor="middle" >5.25</text>
<text x="1160.3" y="573.0" font-size="25.3" text-anchor="middle" >5.32</text>
<text x="1240.2" y="573.0" font-size="25.3" text-anchor="middle" >5.39</text>
<text x="1319.9" y="573.0" font-size="25.3" text-anchor="middle" >5.46</text>
<text x="1399.6" y="573.0" font-size="25.3" text-anchor="middle" >5.56</text>
<text x="1479.1" y="573.0" font-size="25.3" text-anchor="middle" >5.68</text>
<text x="1559.2" y="573.0" font-size="25.3" text-anchor="middle" >5.82</text>
<text x="1639" y="573.0" font-size="25.3" text-anchor="middle" >5.82</text>
<text x="1718.5" y="573.0" font-size="25.3" text-anchor="middle" >5.82</text>
<text x="1399.1" y="609.8" font-size="25.0" text-anchor="middle" >Phase</text>
<text transform="translate(965.5 279.6) rotate(-90)" font-size="24.8" text-anchor="middle">Refractive index</text>
<text transform="translate(1832.5 283.9) rotate(-90)" font-size="25.3" text-anchor="middle">Young’s modulus (kPa)</text>
<line x1="1044.5" y1="541.5" x2="1752.3" y2="541.5" stroke="#333" stroke-width="2.5"/>
<line x1="1153.5" y1="489.6" x2="1153.5" y2="541" stroke="#666" stroke-width="1.3" stroke-dasharray="5.2 3"/>
<line x1="1234.5" y1="443.4" x2="1234.5" y2="541" stroke="#666" stroke-width="1.3" stroke-dasharray="5.2 3"/>
<line x1="1315.2" y1="393.9" x2="1315.2" y2="541" stroke="#666" stroke-width="1.3" stroke-dasharray="5.2 3"/>
<line x1="1395.4" y1="339.0" x2="1395.4" y2="541" stroke="#666" stroke-width="1.3" stroke-dasharray="5.2 3"/>
<line x1="1475.6" y1="265.6" x2="1475.6" y2="541" stroke="#666" stroke-width="1.3" stroke-dasharray="5.2 3"/>
<line x1="1557.5" y1="128.4" x2="1557.5" y2="541" stroke="#666" stroke-width="1.3" stroke-dasharray="5.2 3"/>
<line x1="1638.2" y1="127.8" x2="1638.2" y2="541" stroke="#666" stroke-width="1.3" stroke-dasharray="5.2 3"/>
<line x1="1719.0" y1="127.8" x2="1719.0" y2="541" stroke="#666" stroke-width="1.3" stroke-dasharray="5.2 3"/>
<path d="M1079.5 528.5 L1153.5 489.6 L1234.5 443.4 L1315.2 393.9 L1395.4 339.0 L1475.6 265.6 L1557.5 128.4 L1638.2 127.8 L1719.0 127.8" fill="none" stroke="#c800c8" stroke-width="2.3" stroke-linejoin="round"/>
<path d="M1079.1 502.1 L1151.4 457.3 L1231.9 408.7 L1313.1 349.9 L1393.4 283.0 L1474.9 198.3 L1554.6 88.2 L1635.3 85.6 L1715.8 88.2" fill="none" stroke="#111" stroke-width="1.9" stroke-linejoin="round"/>
<path d="M1079.1 462.9V524.4M1073.6 462.9H1084.6M1073.6 524.4H1084.6" stroke="#000" stroke-width="2.2" fill="none"/>
<path d="M1151.4 421.9V488.5M1145.9 421.9H1156.9M1145.9 488.5H1156.9" stroke="#000" stroke-width="2.2" fill="none"/>
<path d="M1231.9 378.6V451.1M1226.4 378.6H1237.4M1226.4 451.1H1237.4" stroke="#000" stroke-width="2.2" fill="none"/>
<path d="M1313.1 311.6V386.9M1307.6 311.6H1318.6M1307.6 386.9H1318.6" stroke="#000" stroke-width="2.2" fill="none"/>
<path d="M1393.4 247.4V327.4M1387.9 247.4H1398.9M1387.9 327.4H1398.9" stroke="#000" stroke-width="2.2" fill="none"/>
<path d="M1474.9 159.9V241.7M1469.4 159.9H1480.4M1469.4 241.7H1480.4" stroke="#000" stroke-width="2.2" fill="none"/>
<path d="M1554.6 39.1V144.4M1549.1 39.1H1560.1M1549.1 144.4H1560.1" stroke="#000" stroke-width="2.2" fill="none"/>
<path d="M1635.3 39.1V144.4M1629.8 39.1H1640.8M1629.8 144.4H1640.8" stroke="#000" stroke-width="2.2" fill="none"/>
<path d="M1715.8 39.1V144.4M1710.3 39.1H1721.3M1710.3 144.4H1721.3" stroke="#000" stroke-width="2.2" fill="none"/>
<path d="M1081.0 504.2V539.8M1075.7 504.2H1086.3M1075.7 539.8H1086.3" stroke="#ff00ff" stroke-width="2.2" fill="none"/>
<path d="M1155.5 468.1V511.2M1150.2 468.1H1160.8M1150.2 511.2H1160.8" stroke="#ff00ff" stroke-width="2.2" fill="none"/>
<path d="M1236.1 419.0V479.1M1230.8 419.0H1241.3999999999999M1230.8 479.1H1241.3999999999999" stroke="#ff00ff" stroke-width="2.2" fill="none"/>
<path d="M1317.5 360.8V438.4M1312.2 360.8H1322.8M1312.2 438.4H1322.8" stroke="#ff00ff" stroke-width="2.2" fill="none"/>
<path d="M1397.8 305.9V388.2M1392.5 305.9H1403.1M1392.5 388.2H1403.1" stroke="#ff00ff" stroke-width="2.2" fill="none"/>
<path d="M1479.0 226.0V312.8M1473.7 226.0H1484.3M1473.7 312.8H1484.3" stroke="#ff00ff" stroke-width="2.2" fill="none"/>
<path d="M1558.0 78.1V177.0M1552.7 78.1H1563.3M1552.7 177.0H1563.3" stroke="#ff00ff" stroke-width="2.2" fill="none"/>
<path d="M1640.0 78.1V177.0M1634.7 78.1H1645.3M1634.7 177.0H1645.3" stroke="#ff00ff" stroke-width="2.2" fill="none"/>
<path d="M1721.5 78.1V178.0M1716.2 78.1H1726.8M1716.2 178.0H1726.8" stroke="#ff00ff" stroke-width="2.2" fill="none"/>
<circle cx="1079.1" cy="502.1" r="4" fill="none" stroke="#000" stroke-width="1.6"/>
<path d="M1079.5 523.5L1084.0 528.5L1079.5 533.5L1075.0 528.5Z" fill="none" stroke="#d020d0" stroke-width="1.3"/>
<circle cx="1151.4" cy="457.3" r="4" fill="none" stroke="#000" stroke-width="1.6"/>
<path d="M1153.5 484.6L1158.0 489.6L1153.5 494.6L1149.0 489.6Z" fill="none" stroke="#d020d0" stroke-width="1.3"/>
<circle cx="1231.9" cy="408.7" r="4" fill="none" stroke="#000" stroke-width="1.6"/>
<path d="M1234.5 438.4L1239.0 443.4L1234.5 448.4L1230.0 443.4Z" fill="none" stroke="#d020d0" stroke-width="1.3"/>
<circle cx="1313.1" cy="349.9" r="4" fill="none" stroke="#000" stroke-width="1.6"/>
<path d="M1315.2 388.9L1319.7 393.9L1315.2 398.9L1310.7 393.9Z" fill="none" stroke="#d020d0" stroke-width="1.3"/>
<circle cx="1393.4" cy="283.0" r="4" fill="none" stroke="#000" stroke-width="1.6"/>
<path d="M1395.4 334.0L1399.9 339.0L1395.4 344.0L1390.9 339.0Z" fill="none" stroke="#d020d0" stroke-width="1.3"/>
<circle cx="1474.9" cy="198.3" r="4" fill="none" stroke="#000" stroke-width="1.6"/>
<path d="M1475.6 260.6L1480.1 265.6L1475.6 270.6L1471.1 265.6Z" fill="none" stroke="#d020d0" stroke-width="1.3"/>
<circle cx="1554.6" cy="88.2" r="4" fill="none" stroke="#000" stroke-width="1.6"/>
<path d="M1557.5 123.4L1562.0 128.4L1557.5 133.4L1553.0 128.4Z" fill="none" stroke="#d020d0" stroke-width="1.3"/>
<circle cx="1635.3" cy="85.6" r="4" fill="none" stroke="#000" stroke-width="1.6"/>
<path d="M1638.2 122.8L1642.7 127.8L1638.2 132.8L1633.7 127.8Z" fill="none" stroke="#d020d0" stroke-width="1.3"/>
<circle cx="1715.8" cy="88.2" r="4" fill="none" stroke="#000" stroke-width="1.6"/>
<path d="M1719.0 122.8L1723.5 127.8L1719.0 132.8L1714.5 127.8Z" fill="none" stroke="#d020d0" stroke-width="1.3"/>
<line x1="1751" y1="18" x2="1751" y2="542" stroke="#ff00ff" stroke-width="2.2"/>
<rect x="1069.2" y="35.6" width="305.1" height="83.7" fill="#fff" stroke="#000" stroke-width="2"/>
<line x1="1083.9" y1="57.7" x2="1135.2" y2="57.7" stroke="#000" stroke-width="2"/>
<circle cx="1110.5" cy="58.3" r="4" fill="none" stroke="#000" stroke-width="2"/>
<line x1="1084.9" y1="95.2" x2="1136.6" y2="95.2" stroke="#ff00ff" stroke-width="2"/>
<path d="M1110.5 90L1115.3 95.2L1110.5 100.4L1105.7 95.2Z" fill="none" stroke="#ff00ff" stroke-width="1.3"/>
<text x="1147.6" y="66.8" font-size="24.9" text-anchor="start" >Refractive index</text>
<text x="1148.7" y="103.3" font-size="25.1" text-anchor="start" >Young’s modulus</text>
</g></svg>
</body></html>
